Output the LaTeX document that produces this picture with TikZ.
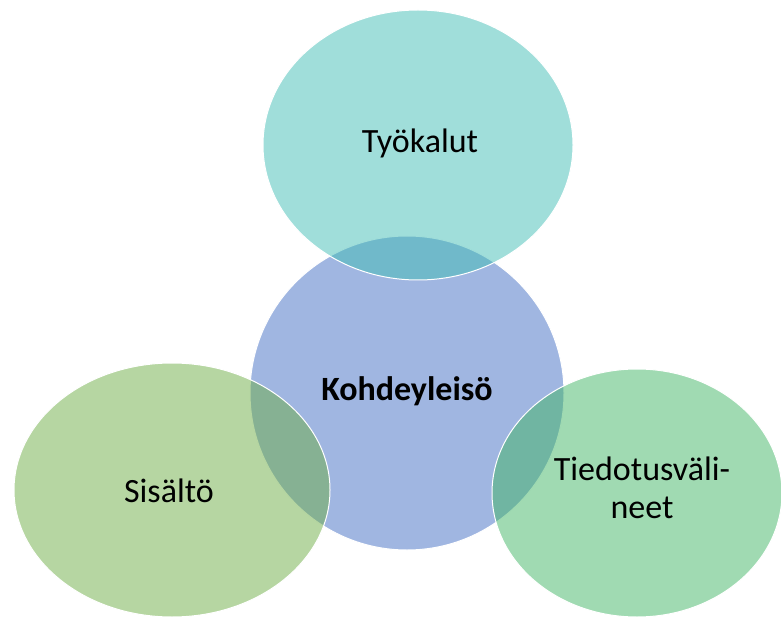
\documentclass[tikz,border=0pt]{standalone}
\usepackage{fontspec}
\setmainfont{Carlito}
\usepackage{tikz}
\usetikzlibrary{calc,backgrounds}

\definecolor{tealc}{RGB}{65,189,181}
\definecolor{bluec}{RGB}{65,109,195}
\definecolor{greenl}{RGB}{109,173,69}
\definecolor{greenr}{RGB}{65,181,101}

\begin{document}
\begin{tikzpicture}[x=1pt,y=-1pt]
  \tikzstyle{blob}=[fill opacity=.5,draw=white,line width=1pt]
  \tikzstyle{lbl}=[font=\fontsize{34}{38}\selectfont,inner sep=0pt,anchor=base,align=center]
  \useasboundingbox (0,0) rectangle (781,617);
  % Cercles (centre d'abord)
  \filldraw[blob,fill=bluec]  (407,393) circle (157);
  \filldraw[blob,fill=tealc]  (418,145) ellipse [x radius=155,y radius=135];
  \filldraw[blob,fill=greenl] (172,490) ellipse [x radius=158,y radius=127];
  \filldraw[blob,fill=greenr] (637,493) ellipse [x radius=145,y radius=124];
  % Textes
  \node[lbl] (tools)    at (420,153) {Työkalut};
  \node[lbl] (audience) at (407,400) {\bfseries Kohdeyleisö};
  \node[lbl] (content)  at (169,502) {Sisältö};
  \node[lbl] (media)    at (642,518) {Tiedotusväli-\\neet}; % base = 2e ligne
\end{tikzpicture}
\end{document}
